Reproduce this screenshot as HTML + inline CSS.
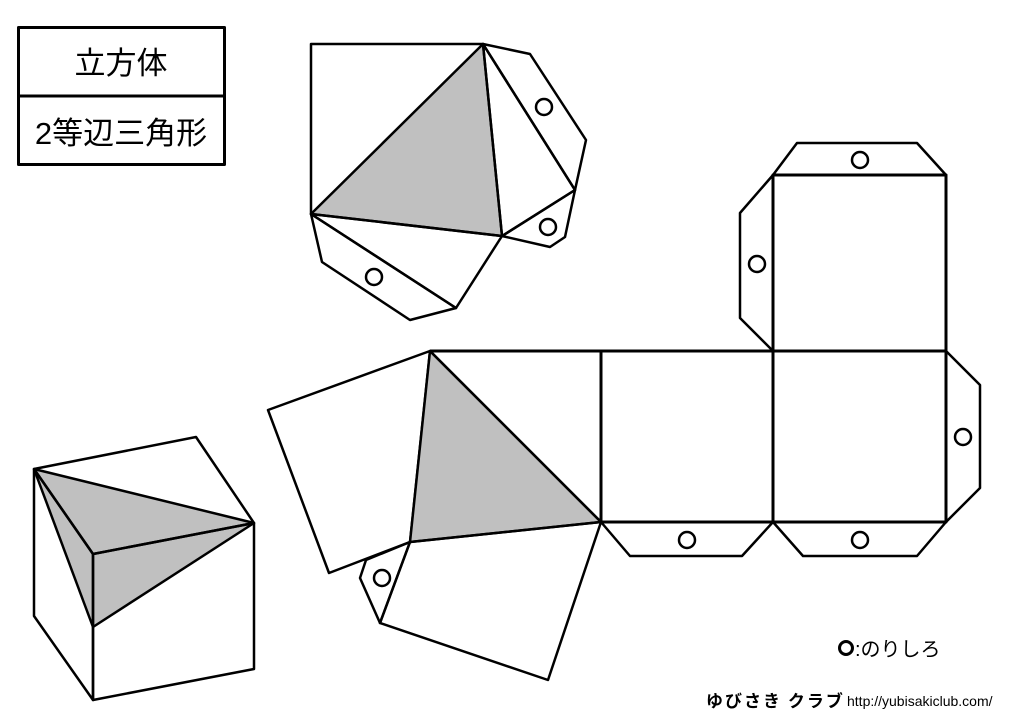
<!DOCTYPE html>
<html><head><meta charset="utf-8"><style>
body{margin:0;background:#fff;width:1024px;height:724px;overflow:hidden;position:relative;font-family:"Liberation Sans","Noto Sans CJK JP",sans-serif}
svg{position:absolute;left:0;top:0}
</style></head><body>
<svg width="1024" height="724" viewBox="0 0 1024 724" fill="none" stroke="#000" stroke-width="2.5" stroke-linejoin="round">
<rect x="18.5" y="27.5" width="206" height="137" stroke-width="3"/>
<line x1="18" y1="96" x2="225" y2="96" stroke-width="3"/>
<text x="121" y="74" font-size="31" fill="#000" stroke="none" text-anchor="middle" font-family="Liberation Sans, Noto Sans CJK JP, sans-serif">立方体</text>
<text x="121" y="144" font-size="31" fill="#000" stroke="none" text-anchor="middle" font-family="Liberation Sans, Noto Sans CJK JP, sans-serif">2等辺三角形</text>

<polyline points="483,44 311,44 311,214"/>
<polygon points="483,44 311,214 502,236" fill="#c0c0c0"/>
<polygon points="483,44 530,54 586,140 575,190"/>
<polygon points="483,44 575,190 502,236"/>
<polygon points="575,190 565,237 550,247 502,236"/>
<polygon points="311,214 502,236 456,308"/>
<polygon points="311,214 322,262 410,320 456,308"/>
<circle cx="544" cy="107" r="8"/>
<circle cx="548" cy="227" r="8"/>
<circle cx="374" cy="277" r="8"/>

<polygon points="430,351 268,410 329,573 410,542"/>
<polygon points="430,351 601,522 410,542" fill="#c0c0c0"/>
<polygon points="410,542 601,522 548,680 380,623"/>
<polygon points="410,542 366,560 360,578 380,623"/>
<circle cx="382" cy="578" r="8"/>
<polyline points="430,351 946,351" stroke-width="3"/>
<polyline points="601,522 946,522" stroke-width="3"/>
<line x1="601" y1="351" x2="601" y2="522" stroke-width="3"/>
<line x1="430" y1="351" x2="601" y2="522"/>
<rect x="773" y="175" width="173" height="347" stroke-width="3"/>
<line x1="773" y1="351" x2="946" y2="351" stroke-width="3"/>
<polygon points="773,175 797,143 917,143 946,175"/>
<polygon points="773,175 740,213 740,318 773,351"/>
<polygon points="946,351 980,385 980,488 946,522"/>
<polygon points="601,522 630,556 742,556 773,522"/>
<polygon points="773,522 803,556 917,556 946,522"/>
<circle cx="860" cy="160" r="8"/>
<circle cx="757" cy="264" r="8"/>
<circle cx="963" cy="437" r="8"/>
<circle cx="687" cy="540" r="8"/>
<circle cx="860" cy="540" r="8"/>

<polygon points="34,469 254,523 93,554" fill="#c0c0c0" stroke="none"/>
<polygon points="93,554 254,523 93,627" fill="#c0c0c0" stroke="none"/>
<polygon points="34,469 93,554 93,627" fill="#c0c0c0" stroke="none"/>
<polygon points="34,469 196,437 254,523 93,554"/>
<polygon points="93,554 254,523 254,669 93,700"/>
<polygon points="34,469 93,554 93,700 34,616"/>
<line x1="34" y1="469" x2="254" y2="523"/>
<line x1="34" y1="469" x2="93" y2="627"/>
<line x1="93" y1="627" x2="254" y2="523"/>

<circle cx="846" cy="648" r="6.5" stroke-width="3"/>
<text x="855" y="656" font-size="20" fill="#000" stroke="none" font-family="Liberation Sans, Noto Sans CJK JP, sans-serif">:のりしろ</text>
<text x="706" y="707" font-size="17" fill="#000" stroke="none" font-weight="bold" letter-spacing="2" font-family="Noto Sans CJK JP, sans-serif">ゆびさき クラブ</text>
<text x="847" y="706" font-size="14" fill="#000" stroke="none" font-family="Liberation Sans, sans-serif">http://yubisakiclub.com/</text>
</svg>
</body></html>
